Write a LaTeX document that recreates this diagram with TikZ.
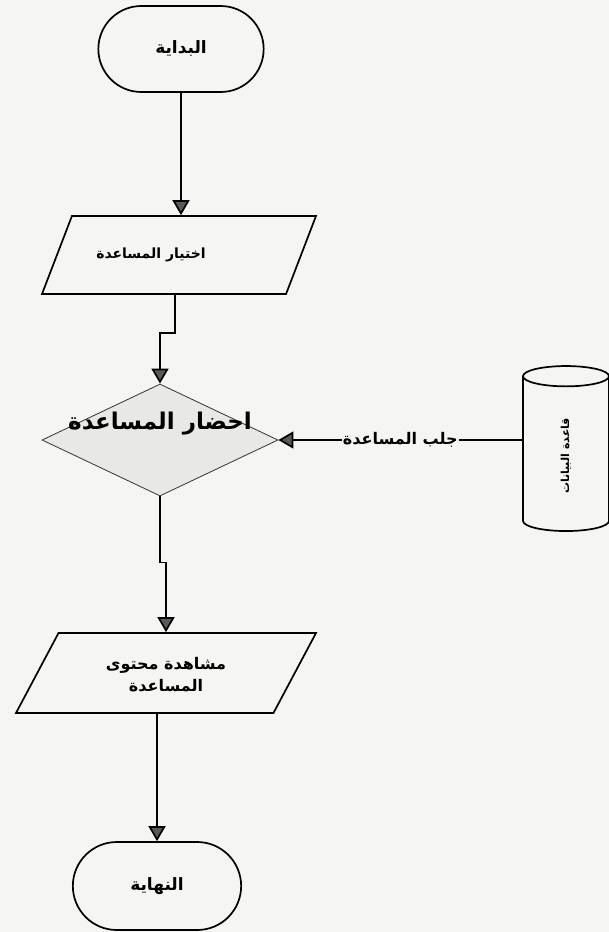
\documentclass[tikz,border=0pt]{standalone}
\usepackage{fontspec}
\usepackage{tikz}
\usetikzlibrary{shapes.geometric,shapes.misc,arrows.meta}
\newfontfamily\arabicfont[Script=Arabic]{DejaVu Sans}
\TeXXeTstate=1
\definecolor{paper}{RGB}{245,245,243}
\definecolor{shade}{RGB}{232,232,230}

\begin{document}
\begin{tikzpicture}[x=1pt,y=-1pt,
  terminal/.style={rounded rectangle, draw, line width=1.7pt, minimum width=172pt, minimum height=86pt,
    font=\arabicfont\bfseries\fontsize{17}{20}\selectfont},
  io/.style={trapezium, trapezium stretches body=true, draw, line width=1.7pt, inner xsep=0pt},
  iotext/.style={align=center, font=\arabicfont\bfseries\fontsize{16}{22}\selectfont},
  decision/.style={diamond, draw=black!80, fill=shade, line width=0.8pt, minimum width=236pt, minimum height=112pt, inner sep=0pt},
  store/.style={cylinder, draw, line width=1.7pt, rotate=90, aspect=1.2, minimum width=86pt, minimum height=165pt,
    font=\arabicfont\bfseries\fontsize{11}{13}\selectfont},
  flow/.style={line width=1.7pt, -{Triangle[width=17pt,length=15pt,fill=black!65]}}]

% paper and page size
\fill[paper] (0,0) rectangle (609,932);
\useasboundingbox (0,0) rectangle (609,932);

% the steps, top to bottom
\node (start) [terminal] at (181,49) {\beginR البداية\endR};
\node (choose) [io, inner ysep=39pt, trapezium left angle=69, trapezium right angle=111, minimum width=274pt] at (179,255) {};
\node (choosetext) [iotext, font=\arabicfont\bfseries\fontsize{14}{17}\selectfont] at ([xshift=-28pt]choose.center) {\beginR اختيار المساعدة\endR};
\node (fetchbox) [decision] at (160,440) {};
\node (fetchtext) [font=\arabicfont\bfseries\fontsize{23}{27}\selectfont] at ([yshift=16pt]fetchbox.center) {\beginR احضار المساعدة\endR};
\node (view) [io, inner ysep=40pt, trapezium left angle=62, trapezium right angle=118, minimum width=300pt] at (166,673) {};
\node (viewtext) [iotext] at ([yshift=-2pt]view.center) {\beginR مشاهدة محتوى\endR\\\beginR المساعدة\endR};
\node (finish) [terminal, minimum width=175pt, minimum height=88pt] at (157,886) {\beginR النهاية\endR};

% database on the right
\node (db) [store] at (566,456) {\beginR قاعدة البيانات\endR};

% Draw the flow lines
\draw[flow] (start.south) -- (start.south |- choose.north);
\draw[flow] ([xshift=-4pt]choose.south) -- ++(0,38) -| (fetchbox.north);
\draw[flow] (fetchbox.south) -- ++(0,66) -| (view.north);
\draw[flow] (finish.north |- view.south) -- (finish.north);
\draw[flow] (db.north |- fetchbox.east) -- node[fill=paper, inner sep=1pt, font=\arabicfont\bfseries\fontsize{16}{18}\selectfont] (getlabel) {\beginR جلب المساعدة\endR} (fetchbox.east);

\end{tikzpicture}
\end{document}
